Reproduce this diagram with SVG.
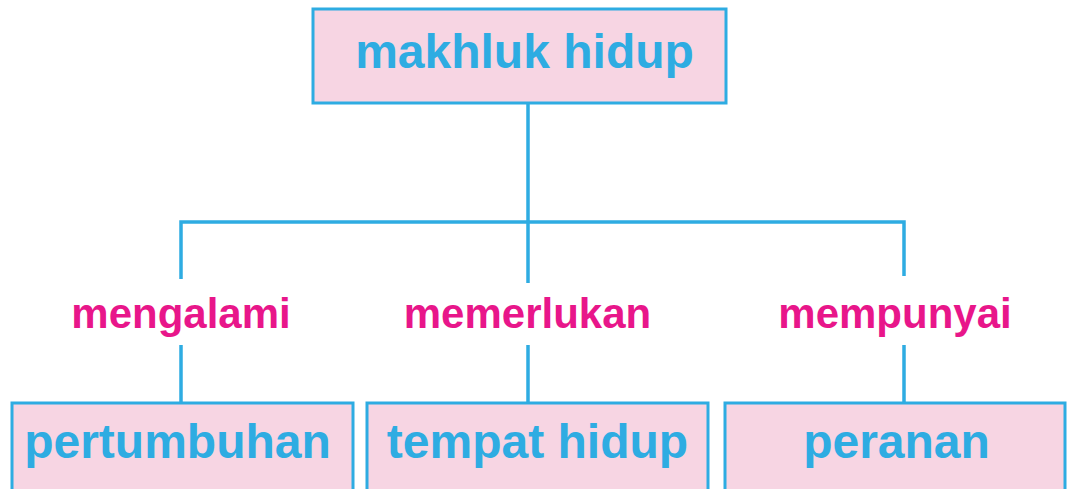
<svg xmlns="http://www.w3.org/2000/svg" width="1067" height="489" viewBox="0 0 1067 489">
<style>
.box{fill:#F7D5E3;stroke:#2EACE2;stroke-width:3}
.bt{font-family:"Liberation Sans",Arial,sans-serif;font-weight:bold;font-size:48px;fill:#2EACE2;text-anchor:middle}
.lt{font-family:"Liberation Sans",Arial,sans-serif;font-weight:bold;font-size:42px;fill:#E8168A;text-anchor:middle}
.ln{stroke:#2EACE2;stroke-width:3.5;fill:none}
</style>
<rect width="1067" height="489" fill="#fff"/>
<g id="connectors">
<path class="ln" d="M528 104V222M181 279V222H904V276M528 222V283"/>
<path class="ln" d="M181 345V403M528 345V403M904 345V403"/>
</g>
<g id="root">
<rect class="box" x="313" y="9" width="413" height="94"/>
<text class="bt" x="524.5" y="68">makhluk hidup</text>
</g>
<g id="label-mengalami"><text class="lt" x="181" y="328">mengalami</text></g>
<g id="label-memerlukan"><text class="lt" x="527.5" y="328">memerlukan</text></g>
<g id="label-mempunyai"><text class="lt" x="895" y="328">mempunyai</text></g>
<g id="pertumbuhan">
<rect class="box" x="12" y="403" width="341" height="100"/>
<text class="bt" x="177.5" y="458">pertumbuhan</text>
</g>
<g id="tempat-hidup">
<rect class="box" x="367" y="403" width="341" height="100"/>
<text class="bt" x="537.5" y="458">tempat hidup</text>
</g>
<g id="peranan">
<rect class="box" x="725" y="403" width="340" height="100"/>
<text class="bt" x="896.5" y="458">peranan</text>
</g>
</svg>
